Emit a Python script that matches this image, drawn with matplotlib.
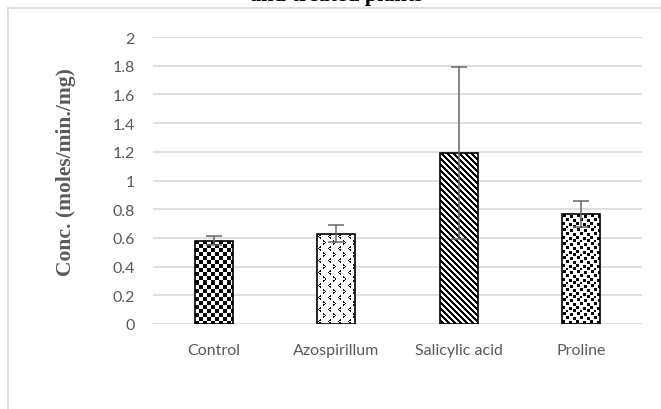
import numpy as np
import matplotlib
matplotlib.use("Agg")
import matplotlib.pyplot as plt
from matplotlib.lines import Line2D

categories = ["Control", "Azospirillum", "Salicylic acid", "Proline"]
values = [0.58, 0.63, 1.19, 0.765]
errors = [0.03, 0.06, 0.60, 0.09]
yticks = [0, 0.2, 0.4, 0.6, 0.8, 1, 1.2, 1.4, 1.6, 1.8, 2]

W, H = 661, 410
fig = plt.figure(figsize=(W / 100, H / 100), dpi=100)
ax = fig.add_axes([153 / W, (H - 325) / H, (642 - 153) / W, (325 - 38) / H])

# chart frame (only top and left edges show in the crop)
fig.add_artist(Line2D([8 / W, 8 / W], [0, (H - 9) / H], color="#d9d9d9", lw=1.2))
fig.add_artist(Line2D([8 / W, 1], [(H - 9) / H, (H - 9) / H], color="#d9d9d9", lw=1.2))

# title is mostly cut off above the frame
fig.text(336 / W, (H - 1.5) / H, "and treated plants", ha="center", va="baseline",
         family="Liberation Serif", fontweight="bold", fontsize=16, color="black")

x = np.arange(len(categories))
bw = 0.31
bars = ax.bar(x, values, bw, facecolor="none", edgecolor="black", lw=1.2, zorder=4)
ax.errorbar(x, values, yerr=errors, fmt="none", ecolor="#666666", elinewidth=1.1,
            capsize=5.5, capthick=1.1, zorder=5)

ax.set_xlim(-0.5, len(categories) - 0.5)
ax.set_ylim(0, 2)


# fill patterns (1 = black)
def tile(name):
    if name == "checker":
        r, c = np.mgrid[0:8, 0:8]
        return (((r // 4) + (c // 4)) % 2 == 0).astype(float)
    if name == "chevron":
        t = np.zeros((12, 10))
        for rr, cc in [(1, 3), (2, 2), (3, 1), (4, 2), (5, 3), (2, 3), (4, 3)]:
            t[rr, cc] = 1
        for rr, cc in [(7, 6), (8, 7), (9, 8), (10, 7), (11, 6), (8, 6), (10, 6)]:
            t[rr, cc] = 1
        return t
    if name == "stripes":
        r, c = np.mgrid[0:6, 0:6]
        return (((c - r) % 6) < 3).astype(float)
    if name == "squares":
        t = np.zeros((14, 14))
        for rr, cc, s in [(0, 1, 3), (1, 8, 3), (4, 4, 3), (5, 11, 3), (8, 0, 3),
                          (9, 7, 3), (12, 4, 2), (11, 11, 3), (7, 13, 1)]:
            t[rr:rr + s, cc:cc + s] = 1
        return t


patterns = ["checker", "chevron", "stripes", "squares"]
for bar, pat in zip(bars, patterns):
    x0, x1 = bar.get_x(), bar.get_x() + bar.get_width()
    y1 = bar.get_height()
    p0 = ax.transData.transform((x0, 0))
    p1 = ax.transData.transform((x1, y1))
    wpx = max(int(round(p1[0] - p0[0])), 1)
    hpx = max(int(round(p1[1] - p0[1])), 1)
    t = tile(pat)
    img = np.tile(t, (hpx // t.shape[0] + 1, wpx // t.shape[1] + 1))[:hpx, :wpx]
    im = ax.imshow(img, extent=(x0, x1, 0, y1), origin="upper", cmap="gray_r",
                   vmin=0, vmax=1, interpolation="nearest", aspect="auto", zorder=3)
    im.set_clip_path(bar)

ax.set_xlim(-0.5, len(categories) - 0.5)
ax.set_ylim(0, 2)

ax.set_yticks(yticks)
ax.set_yticklabels([f"{v:g}" for v in yticks])
ax.set_xticks(x)
ax.set_xticklabels(categories)
for lab in ax.get_xticklabels() + ax.get_yticklabels():
    lab.set_family("Lato")
    lab.set_fontsize(11.5)
    lab.set_color("#595959")
ax.tick_params(axis="both", length=0)
ax.tick_params(axis="y", pad=13)
ax.tick_params(axis="x", pad=14)

ax.grid(axis="y", color="#d9d9d9", lw=1.2, zorder=0)
ax.set_axisbelow(True)
for s in ax.spines.values():
    s.set_visible(False)

fig.text(66 / W, (H - 172) / H, "Conc. (moles/min./mg)", rotation=90, ha="center",
         va="center", family="Liberation Serif", fontweight="bold", fontsize=15.5,
         color="#595959")

fig.savefig("out.png", dpi=100)
